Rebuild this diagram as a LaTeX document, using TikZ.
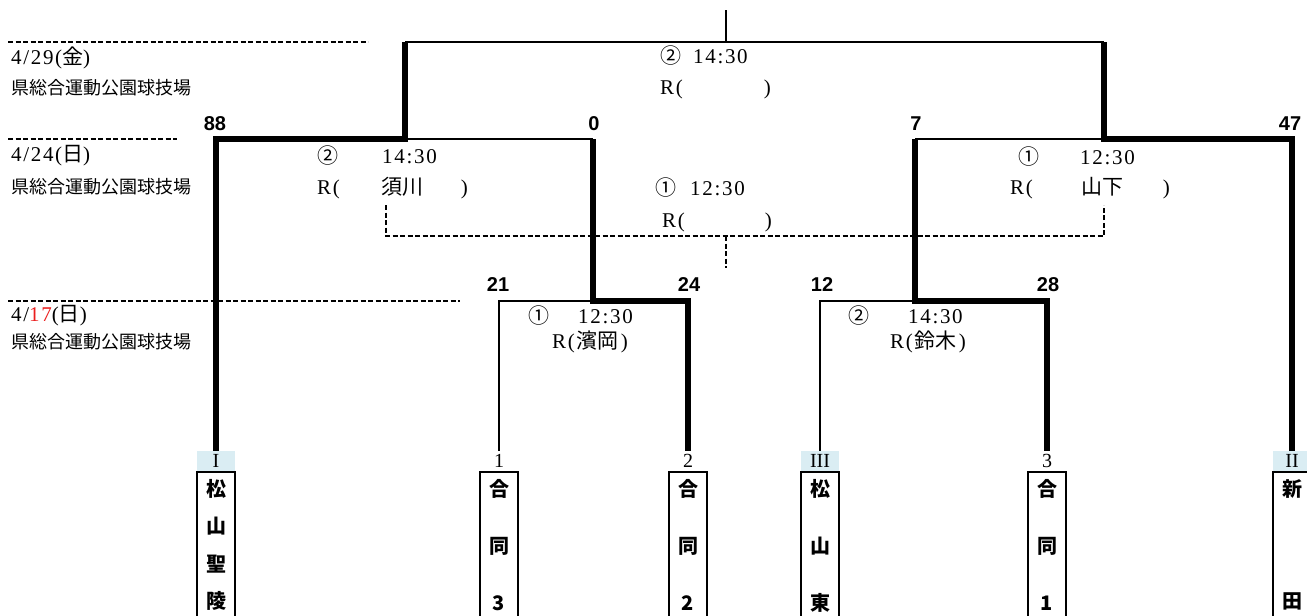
\documentclass[tikz,border=0pt]{standalone}
\usepackage{fontspec}
\setmainfont{Liberation Serif}
\newfontfamily\mincho[LetterSpace=8]{Liberation Serif}
\newfontfamily\jp{Noto Sans CJK JP}
\newfontfamily\scorefont{Liberation Sans}
\usepackage{tikz}
\usetikzlibrary{positioning}
\usepackage{xcolor}
\definecolor{seedblue}{RGB}{218,237,243}
\definecolor{datered}{RGB}{235,30,30}
\tikzstyle{thinline} = [line width=1.8pt]
\tikzstyle{winline} = [line width=5.5pt]
\tikzstyle{dashline} = [line width=1.5pt, dash pattern=on 5pt off 2.5pt]
\tikzstyle{score} = [inner sep=0pt, font=\scorefont\bfseries\fontsize{20}{20}\selectfont]
\tikzstyle{info} = [inner sep=0pt, anchor=west, font=\mincho\fontsize{21}{21}\selectfont]
\tikzstyle{venue} = [inner sep=0pt, anchor=west, font=\jp\fontsize{18}{18}\selectfont]
\tikzstyle{seed} = [inner sep=0pt, minimum width=38pt, minimum height=20pt, font=\fontsize{20}{20}\selectfont]
\tikzstyle{seedmark} = [seed, fill=seedblue]
\tikzset{teambox/.style={draw, line width=1.8pt, inner xsep=0pt, inner ysep=7pt, minimum width=38pt, align=center, text depth=140pt, font=\jp\bfseries\fontsize{20}{#1}\selectfont}}

\begin{document}
\begin{tikzpicture}[x=1pt, y=-1pt]
\useasboundingbox (0,0) rectangle (1307,616);
\clip (0,0) rectangle (1307,616);

% Date rows
\coordinate (d1a) at (8,42);
\coordinate (d1b) at (368,42);
\coordinate (d2a) at (8,139);
\coordinate (d2b) at (177,139);
\coordinate (d3a) at (8,301);
\coordinate (d3b) at (460,301);
\draw[dashline] (d1a) -- (d1b);
\draw[dashline] (d2a) -- (d2b);
\draw[dashline] (d3a) -- (d3b);
\node[info] (date1) at (11,58) {4/29({\jp 金})};
\node[venue] (venue1) at (11,88) {県総合運動公園球技場};
\node[info] (date2) at (11,156) {4/24({\jp 日})};
\node[venue] (venue2) at (11,187) {県総合運動公園球技場};
\node[info] (date3) at (11,316) {4/{\color{datered}17}({\jp 日})};
\node[venue] (venue3) at (11,342) {県総合運動公園球技場};

% Seeds and teams
\node[seedmark] (s1) at (216,461) {I};
\node[seed] (s2) at (499,461) {1};
\node[seed] (s3) at (688,461) {2};
\node[seedmark] (s4) at (820,461) {III};
\node[seed] (s5) at (1047,461) {3};
\node[seedmark] (s6) at (1292,461) {II};
\node[teambox=37.5, below=0pt of s1] (t1) {松\\山\\聖\\陵};
\node[teambox=57, below=0pt of s2] (t2) {合\\同\\3};
\node[teambox=57, below=0pt of s3] (t3) {合\\同\\2};
\node[teambox=57, below=0pt of s4] (t4) {松\\山\\東};
\node[teambox=57, below=0pt of s5] (t5) {合\\同\\1};
\node[teambox=112, below=0pt of s6] (t6) {新\\田};

% Bracket
\coordinate (finTop) at (726,10);
\coordinate (fin) at (726,42);
\coordinate (sfL) at (405,139);
\coordinate (sfR) at (1104,139);
\coordinate (qfL) at (593,301);
\coordinate (qfR) at (915,301);
\draw[thinline] (finTop) -- (fin);
\draw[thinline] (sfL |- fin) -- (sfR |- fin);
\draw[thinline] (sfL) -- (qfL |- sfL);
\draw[thinline] (sfR) -- (qfR |- sfR);
\draw[thinline] (s2.north) |- (qfL);
\draw[thinline] (s4.north) |- (qfR);
\draw[winline] (s1.north) |- (sfL) -- (sfL |- fin);
\draw[winline] (s6.north) |- (sfR) -- (sfR |- fin);
\draw[winline] (s3.north) |- (qfL) -- (qfL |- sfL);
\draw[winline] (s5.north) |- (qfR) -- (qfR |- sfR);

% Third place
\coordinate (thL) at (386,205);
\coordinate (thR) at (1104,205);
\coordinate (thMid) at (726,236);
\coordinate (thBot) at (726,268);
\draw[dashline] (thL) |- (thMid) -| (thR);
\draw[dashline] (thMid) -- (thBot);

% Scores
\node[score] (sc1) at (215,124) {88};
\node[score] (sc2) at (594,124) {0};
\node[score] (sc3) at (916,124) {7};
\node[score] (sc4) at (1290,124) {47};
\node[score] (sc5) at (498,285) {21};
\node[score] (sc6) at (689,285) {24};
\node[score] (sc7) at (822,285) {12};
\node[score] (sc8) at (1048,285) {28};

% Games
\node[info] (finTime) at (660,56) {{\jp ②}\hspace{12pt}14:30};
\node[info] (finRef) at (660,89) {R(\hspace{81pt})};
\node[info] (sfLTime) at (317,156) {{\jp ②}\hspace{44pt}14:30};
\node[info] (sfLRef) at (317,188) {R(\hspace{42pt}{\jp 須川}\hspace{37pt})};
\node[info] (thTime) at (655,188) {{\jp ①}\hspace{14pt}12:30};
\node[info] (thRef) at (662,222) {R(\hspace{80pt})};
\node[info] (sfRTime) at (1018,157) {{\jp ①}\hspace{41pt}12:30};
\node[info] (sfRRef) at (1010,188) {R(\hspace{49pt}{\jp 山下}\hspace{39pt})};
\node[info] (qfLTime) at (528,316) {{\jp ①}\hspace{29pt}12:30};
\node[info] (qfLRef) at (552,342) {R(\hspace{2pt}{\jp 濱岡}\hspace{2pt})};
\node[info] (qfRTime) at (848,316) {{\jp ②}\hspace{39pt}14:30};
\node[info] (qfRRef) at (890,342) {R(\hspace{2pt}{\jp 鈴木}\hspace{2pt})};
\end{tikzpicture}
\end{document}
